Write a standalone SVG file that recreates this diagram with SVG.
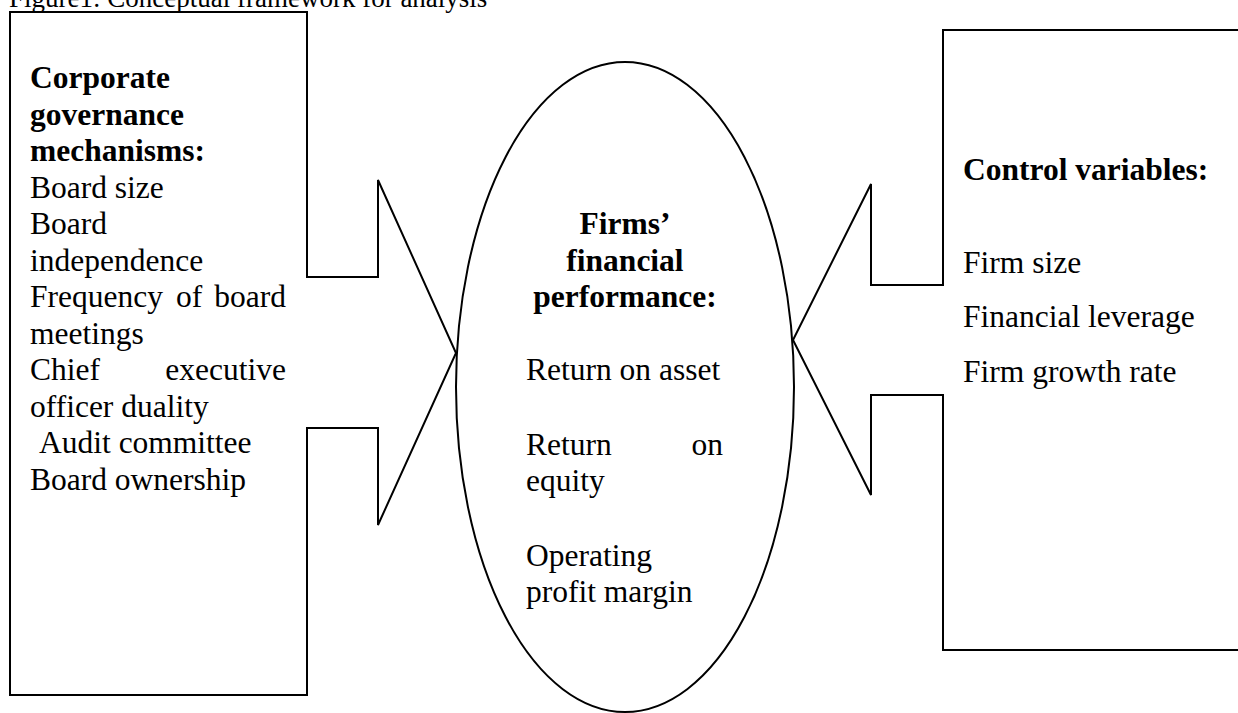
<svg xmlns="http://www.w3.org/2000/svg" width="1238" height="713" viewBox="0 0 1238 713">
<style>
.shape{fill:none;stroke:#000;stroke-width:2;stroke-linejoin:miter}
.t{font-family:"Liberation Serif","Times New Roman",serif;font-size:31.5px;fill:#000}
.b{font-weight:bold}
.title{font-family:"Liberation Serif","Times New Roman",serif;font-size:27px;fill:#000}
</style>
<rect width="1238" height="713" fill="#fff"/>
<g id="title">
<text class="title" x="9" y="7">Figure1: Conceptual framework for analysis</text>
</g>
<g id="connectors"></g>
<g id="governance">
<path class="shape" d="M10,12 H307 V277 H378 V180 L456,353 L378,525 V428 H307 V695 H10 Z"/>
<text class="t b" x="30" y="88">Corporate</text>
<text class="t b" x="30" y="124.5">governance</text>
<text class="t b" x="30" y="161">mechanisms:</text>
<text class="t" x="30" y="197.5">Board size</text>
<text class="t" x="30" y="234">Board</text>
<text class="t" x="30" y="270.5">independence</text>
<text class="t" x="30" y="307">Frequency</text>
<text class="t" x="176" y="307">of</text>
<text class="t" x="286" y="307" text-anchor="end">board</text>
<text class="t" x="30" y="343.5">meetings</text>
<text class="t" x="30" y="380">Chief</text>
<text class="t" x="286" y="380" text-anchor="end">executive</text>
<text class="t" x="30" y="416.5">officer duality</text>
<text class="t" x="39" y="453">Audit committee</text>
<text class="t" x="30" y="489.5">Board ownership</text>
</g>
<g id="performance">
<ellipse class="shape" cx="625" cy="387" rx="169" ry="325"/>
<text class="t b" x="625" y="234" text-anchor="middle">Firms’</text>
<text class="t b" x="625" y="270.5" text-anchor="middle">financial</text>
<text class="t b" x="625" y="307" text-anchor="middle">performance:</text>
<text class="t" x="526" y="380">Return on asset</text>
<text class="t" x="526" y="455">Return</text>
<text class="t" x="723" y="455" text-anchor="end">on</text>
<text class="t" x="526" y="491">equity</text>
<text class="t" x="526" y="566">Operating</text>
<text class="t" x="526" y="602">profit margin</text>
</g>
<g id="controls">
<path class="shape" d="M1240,30 H943 V285 H871 V184 L793,340 L871,495 V395 H943 V650 H1240"/>
<text class="t b" x="963" y="180">Control variables:</text>
<text class="t" x="963" y="273">Firm size</text>
<text class="t" x="963" y="327">Financial leverage</text>
<text class="t" x="963" y="382">Firm growth rate</text>
</g>
</svg>
